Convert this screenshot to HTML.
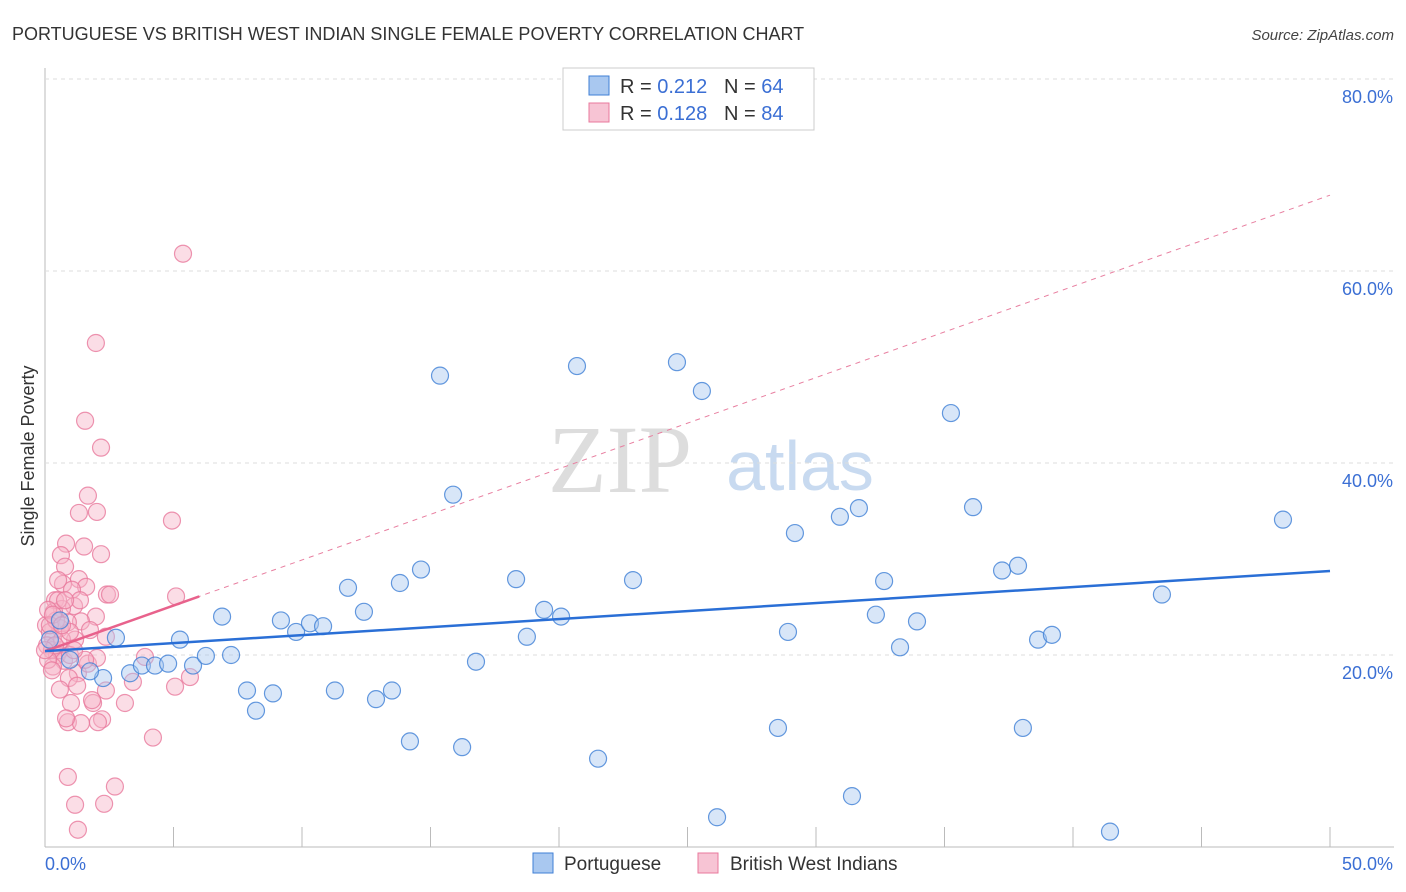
<!DOCTYPE html>
<html><head><meta charset="utf-8">
<style>
body{margin:0;background:#fff;font-family:"Liberation Sans",sans-serif;}
#wrap{position:relative;width:1406px;height:892px;overflow:hidden;}
</style></head>
<body>
<div id="wrap">
<svg id="svg" width="1406" height="892" xmlns="http://www.w3.org/2000/svg">
<text x="12" y="40" font-size="18" fill="#333">PORTUGUESE VS BRITISH WEST INDIAN SINGLE FEMALE POVERTY CORRELATION CHART</text>
<text x="1394" y="40" font-size="15" fill="#444" text-anchor="end" font-style="italic">Source: ZipAtlas.com</text>
<text x="34" y="456" font-size="18" fill="#333" text-anchor="middle" transform="rotate(-90 34 456)">Single Female Poverty</text>
<text x="620" y="492" font-size="96" fill="#ddd" font-family="Liberation Serif,serif" text-anchor="middle">ZIP</text>
<text x="800" y="490" font-size="70" fill="#c8daf0" text-anchor="middle">atlas</text>
<g id="grid"></g><g id="marks"></g>
</svg>
</div>
<script>
const yTicks=[20,40,60,80];
const xTickLabels=["0.0%","50.0%"];
const blueX=[2.76,3.31,2.26,1.75,3.77,4.28,4.79,5.25,5.76,6.26,6.89,7.24,7.86,8.21,8.87,9.18,9.77,10.31,10.82,11.28,11.79,12.41,12.88,13.5,13.81,14.2,14.63,15.37,15.88,16.23,16.77,18.33,18.75,19.42,20.08,20.7,21.52,22.88,24.59,25.56,26.15,28.52,28.91,29.18,30.93,31.4,31.67,32.33,32.65,33.27,33.93,35.25,36.11,37.24,37.86,38.05,38.64,39.18,41.44,43.46,48.17,0.58,0.19,0.97];
const blueY=[21.8,18.1,17.6,18.3,18.9,18.9,19.1,21.6,18.9,19.9,24.0,20.0,16.3,14.2,16.0,23.6,22.4,23.3,23.0,16.3,27.0,24.5,15.4,16.3,27.5,11.0,28.9,49.1,36.7,10.4,19.3,27.9,21.9,24.7,24.0,50.1,9.2,27.8,50.5,47.5,3.1,12.4,22.4,32.7,34.4,5.3,35.3,24.2,27.7,20.8,23.5,45.2,35.4,28.8,29.3,12.4,21.6,22.1,1.6,26.3,34.1,23.6,21.6,19.5];
const pinkX=[5.37,1.98,1.56,2.18,1.67,1.32,2.02,4.94,0.82,1.52,0.62,2.18,0.78,1.32,0.7,1.6,2.41,2.53,5.1,0.39,1.13,0.66,0.35,1.98,1.4,0.89,0.58,0.04,0.19,0.31,0.08,0.27,0.47,2.37,1.17,0.58,0.74,0.31,1.28,1.67,2.02,3.89,0.93,1.25,3.42,5.64,2.37,5.06,1.01,1.87,3.11,0.89,1.4,2.22,2.06,4.2,0.89,1.17,2.72,2.3,1.28,0.43,0.51,0.12,0.66,0.97,1.75,1.05,1.36,0.39,0.78,0.27,0.58,1.56,0.82,1.83,0.51,0.12,0.19,0.31,0.97,0,0.66,1.13];
const pinkY=[61.8,52.5,44.4,41.6,36.6,34.8,34.9,34.0,31.6,31.3,30.4,30.5,29.2,27.9,27.4,27.1,26.3,26.3,26.1,25.7,25.1,24.8,24.5,24.0,23.5,23.4,22.8,23.1,22.4,21.7,21.0,20.5,20.0,21.9,21.6,20.5,19.4,18.8,18.1,19.1,19.7,19.8,17.6,16.8,17.2,17.7,16.3,16.7,15.0,15.0,15.0,13.0,12.9,13.3,13.0,11.4,7.3,4.4,6.3,4.5,1.8,23.6,25.7,19.5,21.6,22.4,22.6,26.8,25.7,21.0,25.7,18.4,16.4,19.5,13.4,15.3,27.8,24.7,23.1,24.2,20.0,20.5,23.1,20.5];
const blueTrend=[20.4,28.75];
const pinkTrend=[20.4,0.95];
const X=v=>45+v*25.7, Y=v=>847-v*9.6;
const NS="http://www.w3.org/2000/svg";
function mk(p,t,a){const e=document.createElementNS(NS,t);for(const k in a)e.setAttribute(k,a[k]);p.appendChild(e);return e;}
const g=document.getElementById('grid'),m=document.getElementById('marks');
let ax=mk(g,'line',{x1:45,y1:68,x2:45,y2:847,stroke:'#bbb'});


let bx=mk(g,'line',{x1:45,y1:847,x2:1394,y2:847,stroke:'#bbb'});


yTicks.forEach(t=>{
 let l=mk(g,'line',{x1:45,y1:Y(t),x2:1394,y2:Y(t),stroke:'#ddd','stroke-dasharray':'4,4'});
 
 
 let tx=mk(g,'text',{x:1393,y:Y(t)+24,'font-size':18,fill:'#3b6fd4','text-anchor':'end'});tx.textContent=t.toFixed(1)+'%';
 
 
});
for(let i=0;i<=10;i++){let l=mk(g,'line',{x1:X(i*5),y1:827,x2:X(i*5),y2:847,stroke:'#bbb'});
 
 }
[[45,'start',0],[1393,'end',1]].forEach(([x,a,i])=>{let t=mk(g,'text',{x:x,y:870,'font-size':18,fill:'#3b6fd4','text-anchor':a});t.textContent=xTickLabels[i];
 
 });
function pts(xs,ys,fill,stroke,name){xs.forEach((x,i)=>{let c=mk(m,'circle',{cx:X(x),cy:Y(ys[i]),r:8.5,fill:fill,'fill-opacity':0.45,stroke:stroke,'stroke-width':1.2,'stroke-opacity':0.8});
 
 });}
pts(pinkX,pinkY,'#f7b4c8','#e8799c','british-west-indian-point');
pts(blueX,blueY,'#a9c8f0','#3f7fd6','portuguese-point');
let pd=mk(m,'line',{x1:X(0),y1:Y(pinkTrend[0]),x2:X(50),y2:Y(pinkTrend[0]+pinkTrend[1]*50),stroke:'#e87fa0','stroke-dasharray':'5,5','stroke-width':1});


let ps=mk(m,'line',{x1:X(0),y1:Y(pinkTrend[0]),x2:X(6),y2:Y(pinkTrend[0]+pinkTrend[1]*6),stroke:'#e8628c','stroke-width':2.5});


let bl=mk(m,'line',{x1:X(0),y1:Y(blueTrend[0]),x2:X(50),y2:Y(blueTrend[1]),stroke:'#2a6fd6','stroke-width':2.5});


// legend
let lb=mk(m,'rect',{x:563,y:68,width:251,height:62,fill:'#fff',stroke:'#ccc'});


[[0,'#a9c8f0','#3f7fd6','0.212','64'],[1,'#f7c4d4','#e8799c','0.128','84']].forEach(([i,f,s,r,n])=>{
 let y=76+i*27;
 let sw=mk(m,'rect',{x:589,y:y,width:20,height:19,fill:f,stroke:s});
 
 
 let t=mk(m,'text',{x:620,y:y+17,'font-size':20,fill:'#333'});
 t.innerHTML='R = <tspan fill="#3b6fd4">'+r+'</tspan>   N = <tspan fill="#3b6fd4">'+n+'</tspan>';
 t.setAttribute('xml:space','preserve');t.style.whiteSpace='pre';
 
 
});
[[533,'#a9c8f0','#3f7fd6','Portuguese',564],[698,'#f7c4d4','#e8799c','British West Indians',730]].forEach(([x,f,s,l,tx])=>{
 let r=mk(m,'rect',{x:x,y:853,width:20,height:20,fill:f,stroke:s});
 
 
 let t=mk(m,'text',{x:tx,y:870,'font-size':19,fill:'#333'});t.textContent=l;
 
 
});
</script>
</body></html>
